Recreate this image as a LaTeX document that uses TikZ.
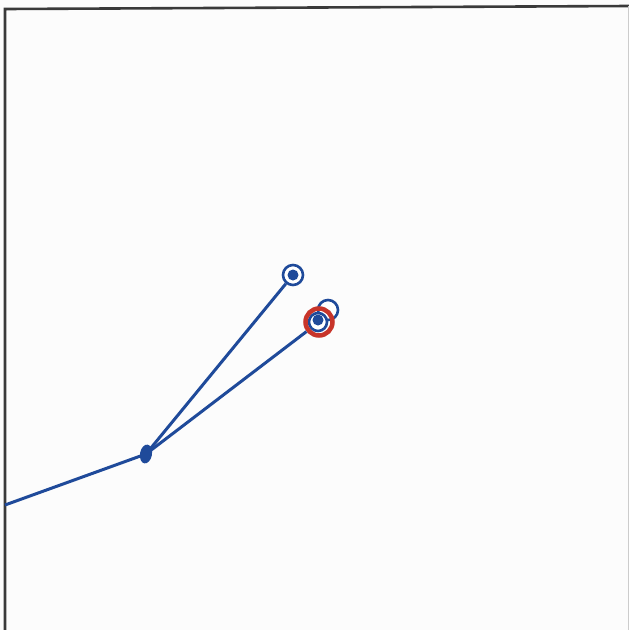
\documentclass[tikz,border=0pt]{standalone}
\usetikzlibrary{shapes.geometric}
\definecolor{lineblue}{HTML}{1F4A9A}
\definecolor{ringred}{HTML}{C8352A}
\definecolor{framegray}{HTML}{3A3A3A}
\begin{document}
\begin{tikzpicture}[x=1pt,y=-1pt,
  wire/.style={draw=lineblue,line width=3pt},
  openring/.style={circle,draw=lineblue,line width=2.6pt,fill=white,minimum size=20pt,inner sep=0pt},
  dotfill/.style={circle,fill=lineblue,minimum size=11pt,inner sep=0pt},
  redring/.style={circle,draw=ringred,line width=4.5pt,minimum size=27pt,inner sep=0pt},
  junction/.style={ellipse,fill=lineblue,minimum width=12pt,minimum height=19pt,inner sep=0pt,rotate=-10}]
\useasboundingbox (0,0) rectangle (629,630);
\fill[white!98!gray] (0,0) rectangle (629,630);
% frame
\draw[framegray,line width=2.6pt] (5,630) -- (5,9) -- (629,6);
\draw[gray!40,line width=1pt] (628,6) -- (628,630);
% nodes
\coordinate (start) at (5,505);
\node[junction] (j) at (146,454) {};
\node[openring] (a) at (293,275) {};
\node[dotfill] (ad) at (293,275) {};
\node[openring] (b) at (328,310) {};
\node[openring,minimum size=18pt] (c) at (318,322) {};
\node[dotfill] (cd) at (318,320) {};
\node[redring] (r) at (319,322) {};
% connectors
\draw[wire] (start) -- (j.center);
\draw[wire] (j.center) -- (a);
\draw[wire] (j.center) -- (r);
\end{tikzpicture}
\end{document}
